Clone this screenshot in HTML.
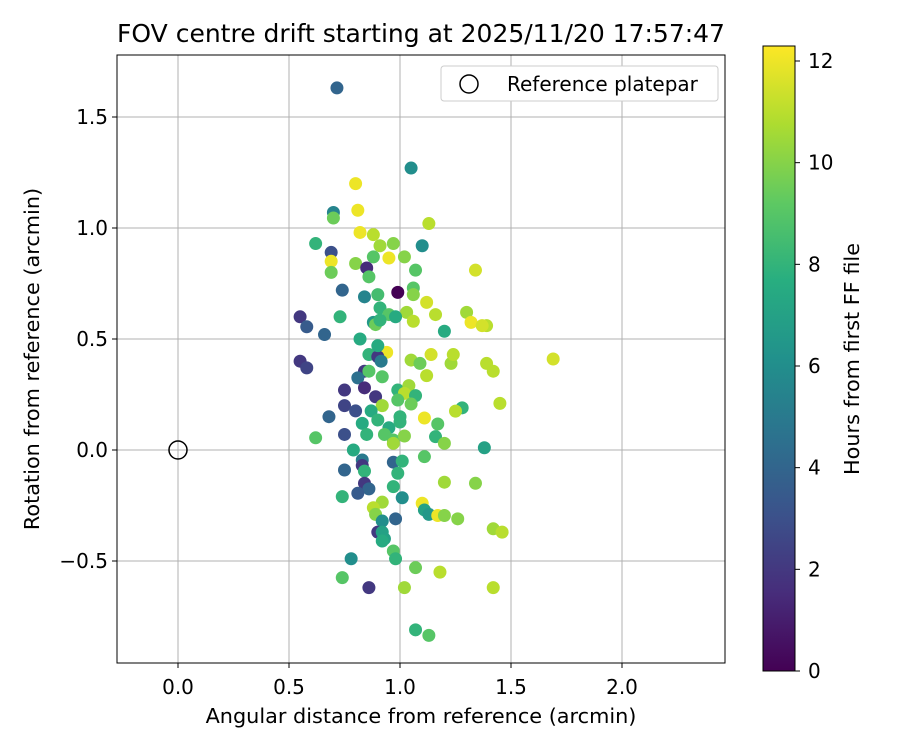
<!DOCTYPE html>
<html><head><meta charset="utf-8"><style>
body{margin:0;background:#fff;}
svg text{font-family:"DejaVu Sans","Liberation Sans",sans-serif;fill:#000;}
</style></head><body>
<svg id="chart" width="900" height="750" viewBox="0 0 900 750" xmlns="http://www.w3.org/2000/svg">
<defs>
<linearGradient id="vir" x1="0" y1="1" x2="0" y2="0">
<stop offset="0" stop-color="#440154"/><stop offset="0.125" stop-color="#472d7b"/><stop offset="0.25" stop-color="#3b528b"/><stop offset="0.375" stop-color="#2c728e"/><stop offset="0.5" stop-color="#21918c"/><stop offset="0.625" stop-color="#28ae80"/><stop offset="0.75" stop-color="#5ec962"/><stop offset="0.875" stop-color="#addc30"/><stop offset="1" stop-color="#fde725"/>
</linearGradient>
<clipPath id="pc"><rect x="117" y="55" width="608" height="608"/></clipPath>
</defs>
<g id="grid"></g>
<g id="pts" clip-path="url(#pc)"></g>
<rect x="117" y="55" width="608" height="608" fill="none" stroke="#000" stroke-width="1"/>
<g id="xt"></g>
<g id="yt"></g>
<text x="421" y="42" font-size="25" text-anchor="middle">FOV centre drift starting at 2025/11/20 17:57:47</text>
<text x="421" y="723" font-size="20.8" text-anchor="middle">Angular distance from reference (arcmin)</text>
<text transform="translate(39,359) rotate(-90)" font-size="20.8" text-anchor="middle">Rotation from reference (arcmin)</text>
<g>
<rect x="441" y="66" width="277" height="35" rx="3" fill="#fff" stroke="#ccc"/>
<circle cx="469" cy="84" r="9" fill="none" stroke="#000" stroke-width="1.5"/>
<text x="507" y="91" font-size="20">Reference platepar</text>
</g>
<rect x="763" y="46" width="32" height="625" fill="url(#vir)" stroke="#000" stroke-width="1"/>
<g id="ct"></g>
<text transform="translate(859,359) rotate(-90)" font-size="20.8" text-anchor="middle">Hours from first FF file</text>
</svg>
<script>
const xTicks=[0.0,0.5,1.0,1.5,2.0];
const yTicks=[-0.5,0.0,0.5,1.0,1.5];
const cTicks=[0,2,4,6,8,10,12];
const xs=[0.716,1.05,0.80,0.70,0.70,0.81,1.13,0.62,0.82,0.88,0.91,0.97,1.10,0.69,0.88,0.95,1.02,0.69,0.69,0.80,0.85,0.86,1.07,1.34,0.74,0.99,0.90,0.84,1.06,1.06,1.12,1.03,1.16,1.30,1.06,1.32,1.39,1.37,0.55,0.58,0.73,0.91,0.95,0.98,0.88,0.89,0.91,1.20,0.66,0.82,0.55,0.58,0.94,0.86,0.90,0.90,1.05,1.09,1.14,1.23,1.24,1.39,1.42,1.69,1.12,0.915,0.84,0.81,0.86,0.92,0.84,0.99,1.04,1.02,0.89,0.99,1.07,0.75,1.05,0.92,0.75,0.80,1.28,1.25,0.87,0.68,1.11,1.00,1.45,0.83,1.17,0.90,0.95,1.00,0.75,0.85,0.93,1.16,1.20,0.62,0.79,0.97,0.97,1.02,1.38,0.83,0.97,1.01,1.11,0.75,0.83,0.84,0.99,1.34,1.20,0.84,0.97,0.86,0.74,0.81,1.01,0.92,0.88,0.89,1.10,1.11,1.13,1.17,1.20,1.26,0.98,0.92,0.90,0.92,0.93,0.92,1.42,1.46,0.97,0.98,0.78,0.74,0.86,1.02,1.07,1.18,1.42,1.07,1.13];
const ys=[1.631,1.27,1.20,1.07,1.045,1.08,1.02,0.93,0.98,0.97,0.92,0.93,0.92,0.89,0.87,0.865,0.87,0.85,0.80,0.84,0.82,0.78,0.81,0.81,0.72,0.71,0.70,0.69,0.73,0.70,0.665,0.62,0.61,0.62,0.58,0.575,0.56,0.56,0.60,0.555,0.60,0.64,0.61,0.60,0.575,0.565,0.585,0.535,0.52,0.50,0.40,0.37,0.44,0.43,0.42,0.47,0.405,0.39,0.43,0.39,0.43,0.39,0.355,0.41,0.335,0.40,0.355,0.325,0.355,0.33,0.28,0.27,0.29,0.255,0.24,0.225,0.245,0.27,0.207,0.20,0.20,0.176,0.19,0.175,0.176,0.15,0.144,0.15,0.21,0.12,0.117,0.135,0.10,0.126,0.07,0.07,0.07,0.06,0.03,0.055,0.00,0.045,0.03,0.063,0.01,-0.045,-0.055,-0.05,-0.03,-0.09,-0.07,-0.095,-0.105,-0.15,-0.145,-0.15,-0.165,-0.175,-0.21,-0.195,-0.215,-0.235,-0.26,-0.29,-0.24,-0.27,-0.29,-0.295,-0.295,-0.31,-0.31,-0.32,-0.37,-0.37,-0.40,-0.41,-0.355,-0.37,-0.455,-0.49,-0.49,-0.575,-0.62,-0.62,-0.53,-0.55,-0.62,-0.81,-0.835];
const hours=[4,6,12,5.5,9.5,12,11,8,12,11,10.5,10,6,3,9,12,10,12,9.5,10,1.5,9,9,11.5,4,0,8.5,5.5,9,10,11.5,10.5,11,10.5,11,12,11,11.5,2,3.5,8,8,9,7.5,6.5,9.5,8,7.5,4,7.5,2,2.5,12,8,2,7.5,10.5,9.5,11.5,10.5,11,11,11,11.5,11,5,2,4.5,9,9,1.5,8,10.5,11,2,9,8,2,9.5,10.5,2.5,3,8,11,7.5,4,12,8,11,7.5,9,8,7.5,8,3,8,9,8,10,9,7.5,9,10.5,10,7,5,4,8,9,4,2,8,8,10,10.5,2,8,4,8,3.5,6,10.5,11,10,12,7,6.5,12,10,10,4,6,2,7,7,7.5,10.5,11,9,8,6,9,2,10.5,9.5,11,11,8,9];
const X0=178,XS=222,Y0=450,YS=222;
const xPix=v=>X0+v*XS, yPix=v=>Y0-v*YS;
const C0=671,CS=(671-61)/12;
const cPix=v=>C0-v*CS;
const stops=[[68,1,84],[71,45,123],[59,82,139],[44,114,142],[33,145,140],[40,174,128],[94,201,98],[173,220,48],[253,231,37]];
function vir(h){let t=Math.max(0,Math.min(1,h/12.3))*8;let i=Math.min(7,Math.floor(t)),f=t-i;const a=stops[i],b=stops[i+1];return `rgb(${a.map((c,k)=>Math.round(c+(b[k]-c)*f)).join(',')})`;}
const NS="http://www.w3.org/2000/svg";
function mk(tag,attrs,parent){const e=document.createElementNS(NS,tag);for(const k in attrs)e.setAttribute(k,attrs[k]);parent.appendChild(e);return e;}
const grid=document.getElementById('grid'),xt=document.getElementById('xt'),yt=document.getElementById('yt'),ct=document.getElementById('ct'),pts=document.getElementById('pts');
xTicks.forEach(v=>{const p=xPix(v);
const l=mk('line',{x1:p,x2:p,y1:55,y2:663,stroke:'#b0b0b0','stroke-width':1},grid);


const t=mk('line',{x1:p,x2:p,y1:663,y2:668,stroke:'#000'},xt);


const tx=mk('text',{x:p,y:694,'font-size':20,'text-anchor':'middle'},xt);tx.textContent=v.toFixed(1);

});
yTicks.forEach(v=>{const p=yPix(v);
const l=mk('line',{x1:117,x2:725,y1:p,y2:p,stroke:'#b0b0b0','stroke-width':1},grid);


const t=mk('line',{x1:112,x2:117,y1:p,y2:p,stroke:'#000'},yt);


const tx=mk('text',{x:108,y:p+7,'font-size':20,'text-anchor':'end'},yt);tx.textContent=(v<0?'\u2212':'')+Math.abs(v).toFixed(1);

});
cTicks.forEach(v=>{const p=cPix(v);
const t=mk('line',{x1:795,x2:800,y1:p,y2:p,stroke:'#000'},ct);


const tx=mk('text',{x:808,y:p+7,'font-size':20},ct);tx.textContent=v;

});
xs.forEach((x,i)=>{const c=mk('circle',{cx:xPix(x),cy:yPix(ys[i]),r:6.5,fill:vir(hours[i])},pts);

});
const ref=mk('circle',{cx:xPix(0),cy:yPix(0),r:9,fill:'none',stroke:'#000','stroke-width':1.5},pts);


</script>
</body></html>
